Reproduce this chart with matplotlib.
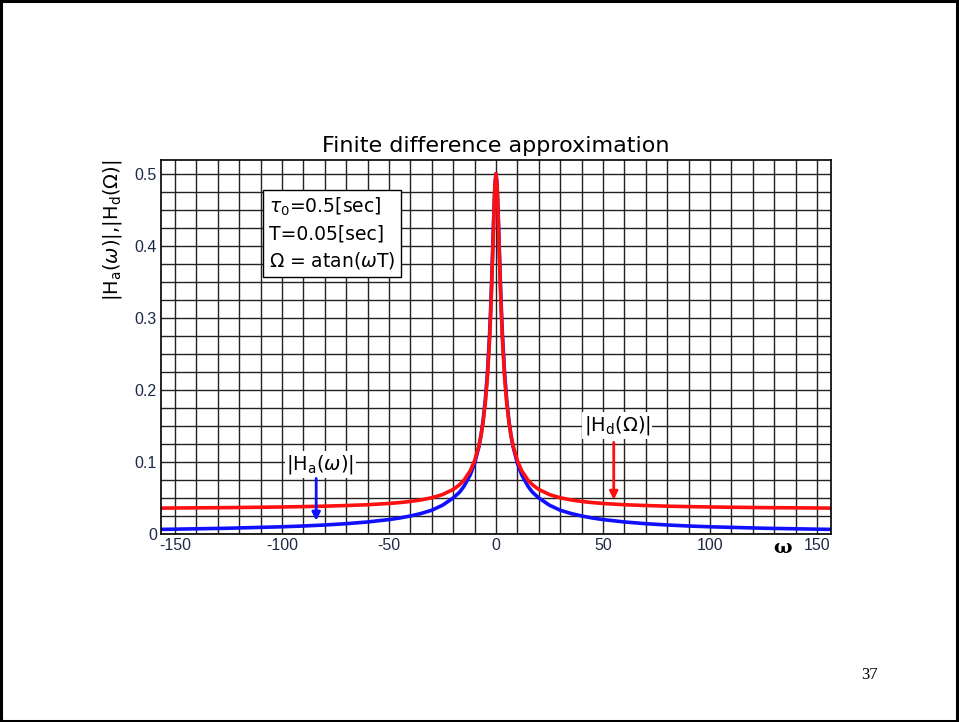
import matplotlib.pyplot as plt
from matplotlib.patches import Rectangle

omega_half = [157, 150, 125, 100, 90, 80, 70, 60, 50, 45, 40, 35, 30, 25, 20, 17, 15, 12, 10,
              8, 7, 6, 5, 4, 3, 2.5, 2, 1.5, 1, 0.5]

# |Ha(w)| analog response (blue)
ha_half = [0.0064, 0.0067, 0.008, 0.010, 0.0111, 0.0125, 0.0143, 0.0167, 0.020, 0.0222,
           0.025, 0.0285, 0.033, 0.0399, 0.050, 0.0581, 0.066, 0.0822, 0.098, 0.121, 0.137,
           0.158, 0.186, 0.224, 0.277, 0.312, 0.354, 0.400, 0.447, 0.485]
# |Hd(Omega)| finite difference response (red)
hd_half = [0.0359, 0.0361, 0.0366, 0.0375, 0.038, 0.0386, 0.0395, 0.0406, 0.0424, 0.0436,
           0.0452, 0.0473, 0.0503, 0.0547, 0.0618, 0.0684, 0.0745, 0.0879, 0.1016, 0.1222,
           0.1368, 0.156, 0.1817, 0.2178, 0.2698, 0.3044, 0.3457, 0.3933, 0.4428, 0.4836]

omega = [-w for w in omega_half] + [0] + omega_half[::-1]
ha = ha_half + [0.5] + ha_half[::-1]
hd = hd_half + [0.5] + hd_half[::-1]

xticks = [-150, -100, -50, 0, 50, 100, 150]
xticklabels = ["-150", "-100", "-50", "0", "50", "100", "150"]
yticks = [0, 0.1, 0.2, 0.3, 0.4, 0.5]
yticklabels = ["0", "0.1", "0.2", "0.3", "0.4", "0.5"]

fig = plt.figure(figsize=(9.59, 7.22), dpi=100)
ax = fig.add_axes([161 / 959, 1 - 534 / 722, 670 / 959, 374 / 722])

# slide frame
fig.patches.append(Rectangle((0.0015, 0.002), 0.996, 0.996, transform=fig.transFigure,
                             fill=False, edgecolor="black", linewidth=2.2))

ax.plot(omega, ha, color="#1010ff", linewidth=2.6)
ax.plot(omega, hd, color="#ff1010", linewidth=2.6)

ax.set_xlim(-156.5, 156.5)
ax.set_ylim(0, 0.519)
ax.set_xticks(xticks)
ax.set_xticklabels(xticklabels)
ax.set_yticks(yticks)
ax.set_yticklabels(yticklabels)
ax.set_xticks(range(-150, 151, 10), minor=True)
ax.set_yticks([i * 0.025 for i in range(21)], minor=True)
ax.grid(which="both", color="#222222", linewidth=1.0)
ax.set_axisbelow(True)
ax.tick_params(which="both", length=0)
ax.tick_params(labelsize=11.5, labelcolor="#1c2846", pad=3)
for lab in ax.get_xticklabels() + ax.get_yticklabels():
    lab.set_family("Liberation Sans")
for sp in ax.spines.values():
    sp.set_color("black")
    sp.set_linewidth(1.2)

ax.set_title("Finite difference approximation", fontsize=16, pad=6)

fig.text(112 / 959, 1 - 230 / 722, r"$|\mathrm{H_a}(\omega)|{,}|\mathrm{H_d}(\Omega)|$",
         rotation=90, ha="center", va="center", fontsize=14)

ax.text(-106, 0.469, "$\\tau_0$=0.5[sec]\nT=0.05[sec]\n$\\Omega$ = atan($\\omega$T)",
        fontsize=13.5, va="top", ha="left", linespacing=1.4,
        bbox=dict(boxstyle="square,pad=0.3", facecolor="white", edgecolor="black", linewidth=1))

ax.text(134, -0.0195, "ω", fontsize=14, ha="center", va="center", fontweight="bold",
        family="DejaVu Serif")

ax.text(-82, 0.097, r"$|\mathrm{H_a}(\omega)|$", fontsize=14, ha="center", va="center",
        bbox=dict(boxstyle="square,pad=0.1", facecolor="white", edgecolor="none"))
ax.annotate("", xy=(-84, 0.0145), xytext=(-84, 0.081),
            arrowprops=dict(arrowstyle="-|>", color="#1010ff", lw=2, mutation_scale=12))

ax.text(56.5, 0.15, r"$|\mathrm{H_d}(\Omega)|$", fontsize=14, ha="center", va="center",
        bbox=dict(boxstyle="square,pad=0.1", facecolor="white", edgecolor="none"))
ax.annotate("", xy=(55, 0.0435), xytext=(55, 0.131),
            arrowprops=dict(arrowstyle="-|>", color="#ff1010", lw=2, mutation_scale=12))

fig.text(870 / 959, 1 - 675 / 722, "37", fontsize=12, family="Liberation Serif",
         ha="center", va="center")

fig.savefig("out.png", dpi=100)
